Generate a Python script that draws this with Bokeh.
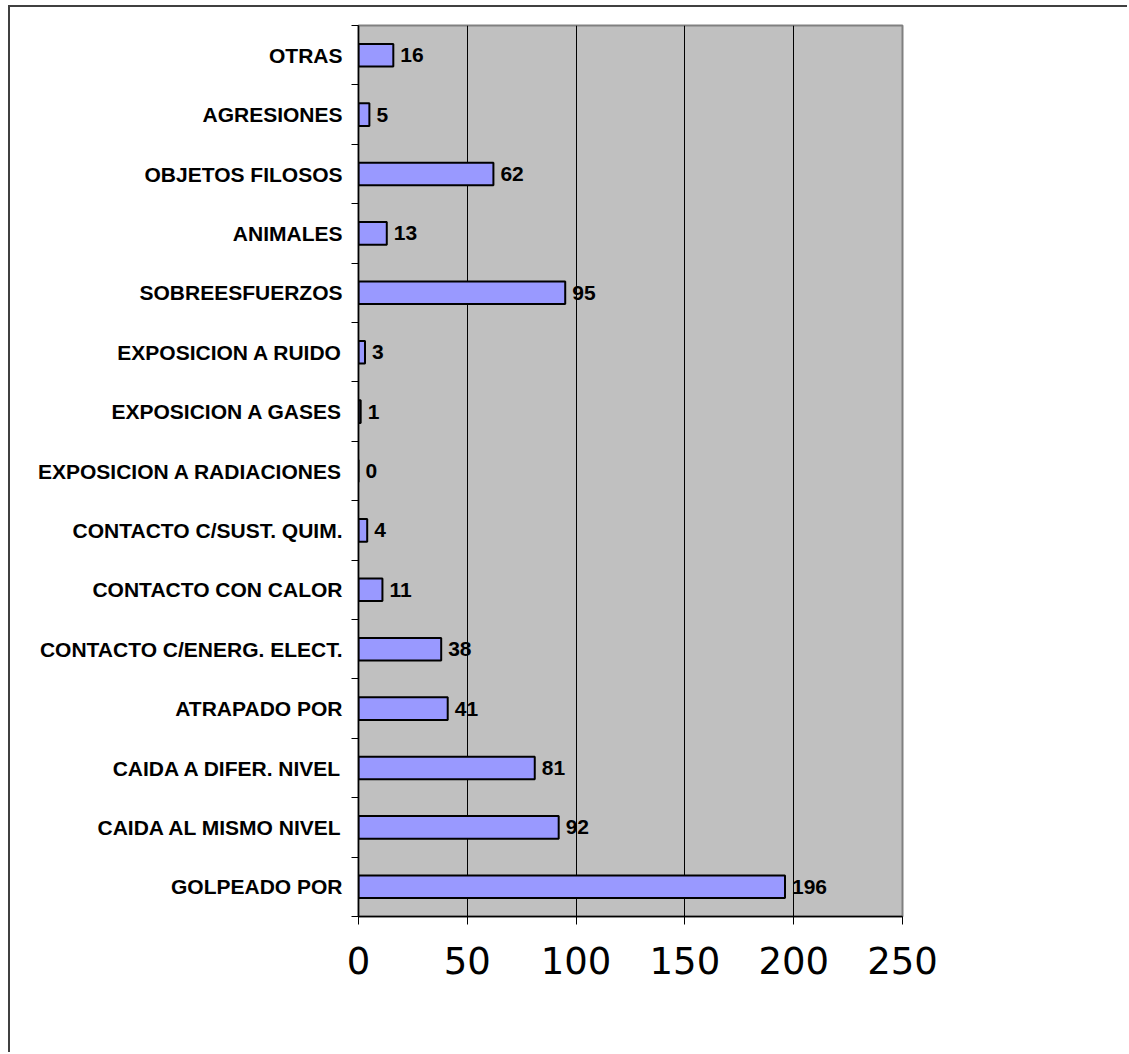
from bokeh.plotting import figure
from bokeh.models import FixedTicker, ColumnDataSource, Range1d
from bokeh.core.properties import value
from bokeh.embed import file_html
from bokeh.resources import INLINE

# categories listed top to bottom as in the chart
categories = [
    "OTRAS", "AGRESIONES", "OBJETOS FILOSOS", "ANIMALES", "SOBREESFUERZOS",
    "EXPOSICION A RUIDO", "EXPOSICION A GASES", "EXPOSICION A RADIACIONES",
    "CONTACTO C/SUST. QUIM.", "CONTACTO CON CALOR", "CONTACTO C/ENERG. ELECT.",
    "ATRAPADO POR", "CAIDA A DIFER. NIVEL", "CAIDA AL MISMO NIVEL", "GOLPEADO POR",
]
counts = [16, 5, 62, 13, 95, 3, 1, 0, 4, 11, 38, 41, 81, 92, 196]
x_ticks = [0, 50, 100, 150, 200, 250]
grid_values = [50, 100, 150, 200]

cats_bu = categories[::-1]
vals_bu = counts[::-1]
n = len(cats_bu)
ypos = list(range(n))

src = ColumnDataSource(dict(y=ypos, val=vals_bu, label=[str(v) for v in vals_bu]))

p = figure(width=1119, height=1047,
           x_range=Range1d(x_ticks[0], x_ticks[-1]), y_range=Range1d(-0.5, n - 0.5),
           output_backend="svg", toolbar_location=None,
           min_border_left=348, min_border_right=227, min_border_top=18, min_border_bottom=138,
           margin=(5, 0, 0, 8),
           styles={"border-left": "2px solid #404040", "border-top": "2px solid #404040"})

p.background_fill_color = "#C0C0C0"
p.border_fill_color = "white"
p.outline_line_color = "#808080"
p.outline_line_width = 2

p.hbar(y="y", right="val", left=0, height=0.38, source=src,
       fill_color="#9999FF", line_color="black", line_width=2)

p.text(x="val", y="y", text="label", source=src, x_offset=7,
       text_baseline="middle", text_align="left",
       text_font=value("Liberation Sans"), text_font_style="bold",
       text_font_size="21px", text_color="black")

# grid
p.ygrid.grid_line_color = None
p.xgrid.ticker = FixedTicker(ticks=grid_values)
p.xgrid.grid_line_color = "black"
p.xgrid.grid_line_width = 1

# y axis
ya = p.yaxis[0]
ya.ticker = FixedTicker(ticks=ypos, minor_ticks=[i - 0.5 for i in range(n + 1)])
ya.major_label_overrides = {i: c for i, c in zip(ypos, cats_bu)}
ya.major_tick_line_color = None
ya.major_tick_in = 0
ya.major_tick_out = 0
ya.minor_tick_line_color = "black"
ya.minor_tick_in = 0
ya.minor_tick_out = 7
ya.axis_line_color = "black"
ya.axis_line_width = 1.5
ya.major_label_standoff = 9
ya.major_label_text_font = "Liberation Sans"
ya.major_label_text_font_style = "bold"
ya.major_label_text_font_size = "21px"
ya.major_label_text_color = "black"

# x axis
xa = p.xaxis[0]
xa.ticker = FixedTicker(ticks=x_ticks)
xa.axis_line_color = "black"
xa.axis_line_width = 1.5
xa.major_tick_line_color = "black"
xa.major_tick_in = 0
xa.major_tick_out = 8
xa.minor_tick_line_color = None
xa.major_label_standoff = 22
xa.major_label_text_font = "DejaVu Sans"
xa.major_label_text_font_style = "normal"
xa.major_label_text_font_size = "37px"
xa.major_label_text_color = "black"

open("out.html", "w").write(file_html(p, INLINE))
